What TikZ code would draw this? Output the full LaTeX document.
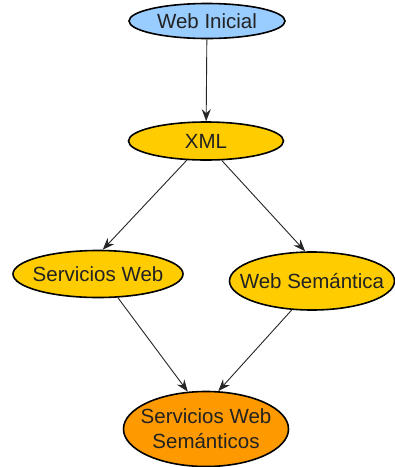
\documentclass[tikz,border=0pt]{standalone}
\usepackage{fontspec}
\setmainfont{Liberation Sans}
\usetikzlibrary{shapes.geometric,arrows.meta}
\definecolor{startblue}{HTML}{99CCFF}
\definecolor{techgold}{HTML}{FFCC00}
\definecolor{goalorange}{HTML}{FF9900}
\definecolor{inktext}{HTML}{222222}
\begin{document}
\begin{tikzpicture}[x=1pt,y=-1pt,
  % negative x-sep so that the ellipse size is set by minimum width/height alone
  topic/.style={ellipse,draw=black,line width=1.6pt,inner xsep=-45pt,inner ysep=0pt,
    text=inktext,font=\fontsize{20.5}{25}\selectfont,align=center},
  link/.style={draw=black!85,line width=0.9pt,-{Stealth[length=12pt,width=9pt,inset=4pt]}}]
  \useasboundingbox (0,0) rectangle (395,467);
  \fill[white] (0,0) rectangle (395,467);

  \node[topic,fill=startblue,minimum width=156pt,minimum height=35pt] (wi) at (207,21) {Web Inicial};
  \node[topic,fill=techgold,minimum width=155pt,minimum height=38pt] (xml) at (206,141) {XML};
  \node[topic,fill=techgold,minimum width=170pt,minimum height=47pt] (sw) at (98,274) {Servicios Web};
  \node[topic,fill=techgold,minimum width=165pt,minimum height=58pt] (ws) at (312,281) {Web Semántica};
  \node[topic,fill=goalorange,minimum width=165pt,minimum height=75pt] (sws) at (206,429) {Servicios Web\\Semánticos};

  \draw[link] (wi) -- (xml);
  \draw[link] (xml.225) -- (sw.79);
  \draw[link] (xml.309) -- (ws.103);
  \draw[link] (sw.310) -- (sws.116);
  \draw[link] (ws.235) -- (sws.72);
\end{tikzpicture}
\end{document}
